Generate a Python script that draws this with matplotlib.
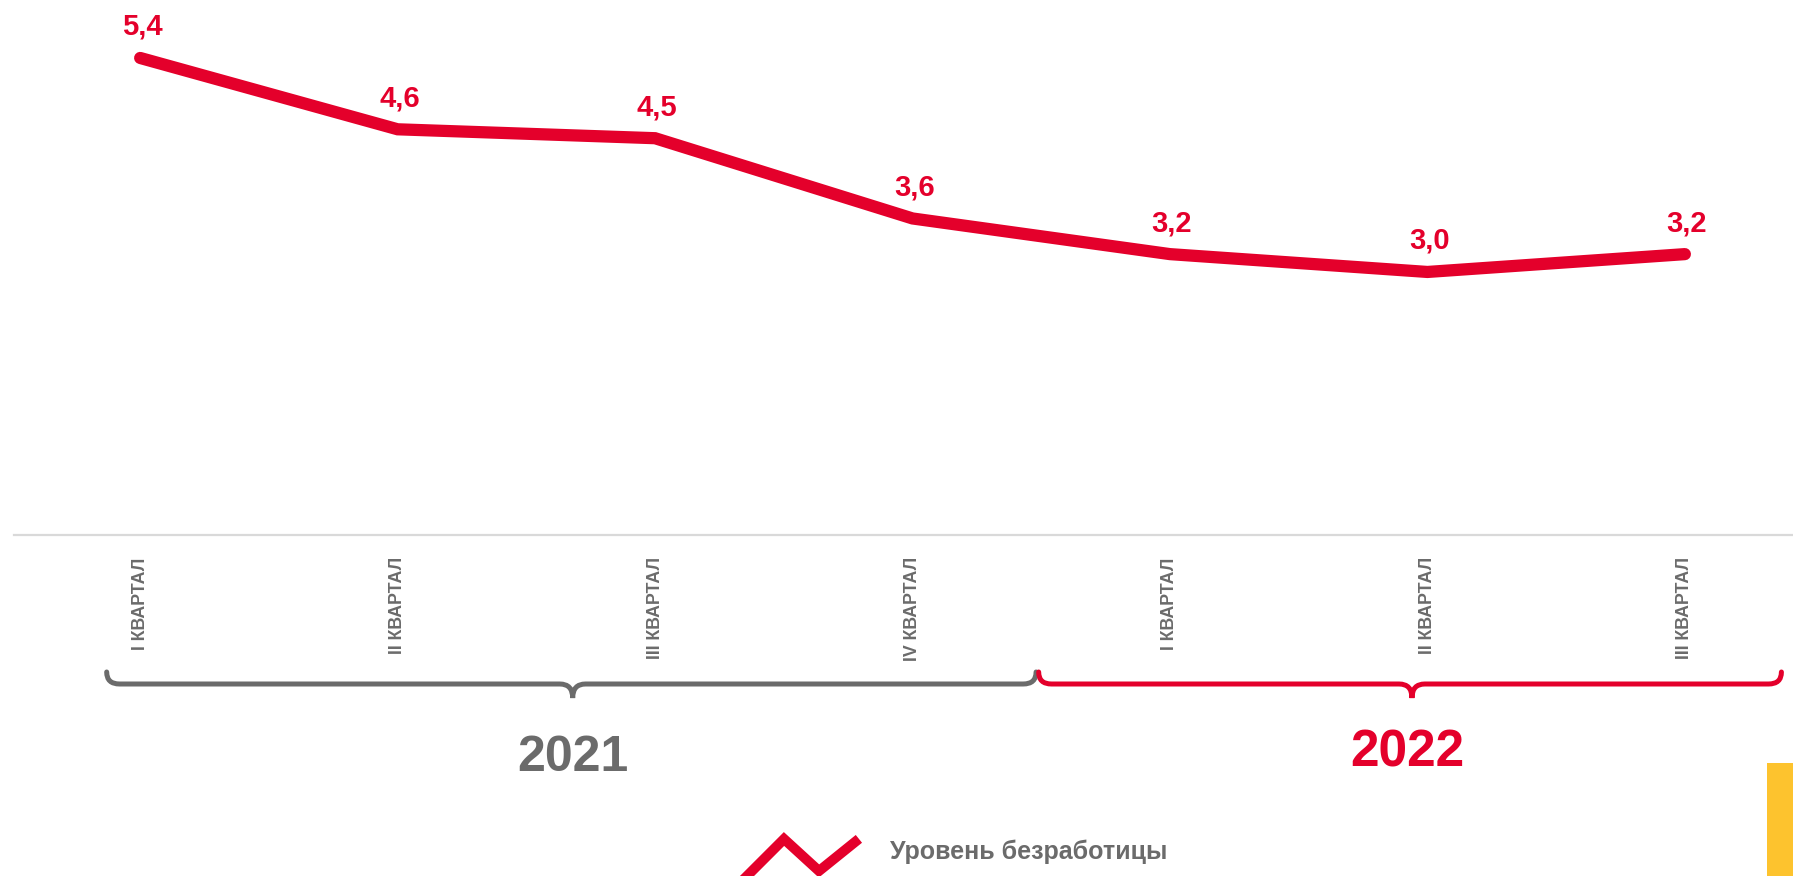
import matplotlib.pyplot as plt
from matplotlib.path import Path
from matplotlib.patches import PathPatch, Rectangle
from matplotlib.lines import Line2D
import matplotlib.transforms as mtransforms

plt.rcParams['font.family'] = ['Liberation Sans', 'DejaVu Sans']
plt.rcParams['font.weight'] = 'bold'

RED = "#E4002B"
GRAY = "#6B6B6B"

quarters = ["I КВАРТАЛ", "II КВАРТАЛ", "III КВАРТАЛ", "IV КВАРТАЛ",
            "I КВАРТАЛ", "II КВАРТАЛ", "III КВАРТАЛ"]
unemployment = [5.4, 4.6, 4.5, 3.6, 3.2, 3.0, 3.2]
years = ["2021", "2022"]
legend_label = "Уровень безработицы"

W, H = 1793, 876
fig = plt.figure(figsize=(W / 100, H / 100), dpi=100)
ax = fig.add_axes([14 / W, (H - 535) / H, (W - 14) / W, 535 / H])

x = list(range(len(quarters)))
ax.plot(x, unemployment, color=RED, lw=8.8, solid_capstyle="round",
        solid_joinstyle="miter", clip_on=False)

for xi, v in zip(x, unemployment):
    ax.annotate(f"{v:.1f}".replace(".", ","), (xi, v), xytext=(2, 31),
                textcoords="offset pixels", ha="center", va="center",
                color=RED, fontsize=21, fontweight="bold")

ax.set_xlim(-0.49, 6.42)
ax.set_ylim(0.05, 6.05)
ax.set_xticks(x)
ax.set_xticklabels(quarters, rotation=90, va="top", ha="center",
                   color=GRAY, fontsize=12.8, fontweight="bold")
ax.tick_params(axis="x", length=0, pad=16)
ax.set_yticks([])
for s in ["top", "left", "right"]:
    ax.spines[s].set_visible(False)
ax.spines["bottom"].set_color("#D9D9D9")
ax.spines["bottom"].set_linewidth(1.6)

# braces: x in data units, y in figure fraction
trans = mtransforms.blended_transform_factory(ax.transData, fig.transFigure)


def brace(x0, x1, xc, color):
    ytip = 1 - 672 / H
    yline = 1 - 684 / H
    ycusp = 1 - 698 / H
    r = 0.05
    verts = [(x0, ytip), (x0, yline), (x0 + r, yline),
             (xc - r, yline), (xc, yline), (xc, ycusp),
             (xc, yline), (xc + r, yline),
             (x1 - r, yline), (x1, yline), (x1, ytip)]
    codes = [Path.MOVETO, Path.CURVE3, Path.CURVE3,
             Path.LINETO, Path.CURVE3, Path.CURVE3,
             Path.CURVE3, Path.CURVE3,
             Path.LINETO, Path.CURVE3, Path.CURVE3]
    ax.add_patch(PathPatch(Path(verts, codes), transform=trans, fill=False,
                           edgecolor=color, lw=3.6, clip_on=False,
                           capstyle="round"))


brace(-0.13, 3.48, 1.68, GRAY)
brace(3.49, 6.375, 4.94, RED)

ax.text(1.68, 1 - 758 / H, years[0], transform=trans, ha="center",
        va="center", color=GRAY, fontsize=36, fontweight="bold")
ax.text(4.92, 1 - 753 / H, years[1], transform=trans, ha="center",
        va="center", color=RED, fontsize=37, fontweight="bold")

# legend
zx = [745, 784, 819, 855]
zy = [878, 839, 871, 842]
fig.add_artist(Line2D([a / W for a in zx], [1 - b / H for b in zy],
                      transform=fig.transFigure, color=RED, lw=7.2,
                      solid_joinstyle="miter"))
fig.text(890 / W, 1 - 852 / H, legend_label, ha="left", va="center",
         color=GRAY, fontsize=18, fontweight="bold")

# yellow tab on right
fig.add_artist(Rectangle((1767 / W, 0), (W - 1767) / W, (876 - 763) / H,
                         transform=fig.transFigure, color="#FDC32E",
                         lw=0))

fig.savefig("out.png", dpi=100)
